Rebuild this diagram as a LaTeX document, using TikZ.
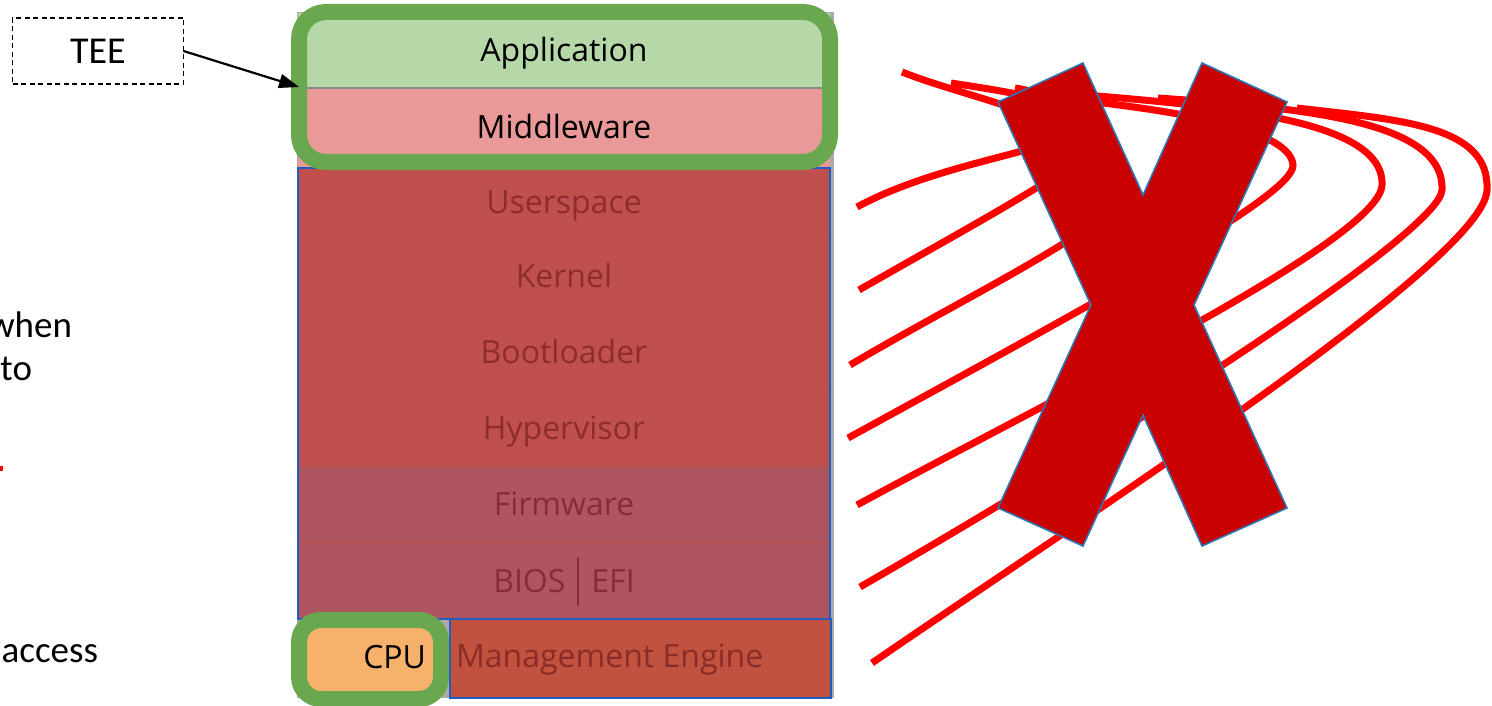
\documentclass[tikz,border=0pt]{standalone}
\usepackage{fontspec}
\setmainfont{Carlito}
\newfontfamily\stackfont{Open Sans}
\usetikzlibrary{arrows.meta}

\definecolor{appgreen}{HTML}{B6D7A8}
\definecolor{midpink}{HTML}{EA9999}
\definecolor{layerred}{HTML}{C0504D}
\definecolor{layertext}{HTML}{8E2D2E}
\definecolor{fwred}{HTML}{AF555F}
\definecolor{fwtext}{HTML}{882C36}
\definecolor{mered}{HTML}{C0523F}
\definecolor{metext}{HTML}{8A2C28}
\definecolor{sepred}{HTML}{B84A48}
\definecolor{framegreen}{HTML}{6AA84F}
\definecolor{cpuorange}{HTML}{F6B26B}
\definecolor{edgeblue}{HTML}{1F5DC6}
\definecolor{crossred}{HTML}{C80000}
\definecolor{crossedge}{HTML}{2E75B6}
\definecolor{stackgray}{HTML}{ABABAB}

\begin{document}
\begin{tikzpicture}[x=1pt,y=-1pt,
  every node/.style={inner sep=0pt, outer sep=0pt},
  sidetext/.style={font=\fontsize{37}{44}\selectfont},
  layer/.style={minimum width=532pt, text height=22pt, text depth=0pt,
    font=\stackfont\fontsize{32}{36}\selectfont},
  layersep/.style={draw=sepred, line width=1pt},
  greenframe/.style={draw=framegreen, line width=16pt},
  scrawl/.style={draw=red, line width=7pt},
  crossmark/.style={draw=crossedge, line width=1.6pt, fill=crossred, line join=miter}]

\path[use as bounding box, clip] (0,0) rectangle (1492,706);

% cut-off words of the side text
\node[sidetext, anchor=base east] (when) at (72,337) {when};
\node[sidetext, anchor=base east] (to) at (32,380) {to};
\node[sidetext, anchor=base east] (access) at (98,662) {access};
\fill[red] (0,466) rectangle (2.5,471);

% software stack
\fill[stackgray] (297,12) rectangle (834,698);
\node[layer, fill=appgreen, minimum height=75pt, text=black] (app) at (564,50.5) {Application};
\node[layer, fill=midpink, minimum height=81pt, text=black] (mid) at (564,127.5) {Middleware};
\draw[draw=stackgray!80!black, line width=2pt] (app.south west) -- (app.south east);
\node[layer, fill=layerred, minimum height=70pt, text=layertext] (user) at (564,203) {Userspace};
\node[layer, fill=layerred, minimum height=77pt, text=layertext] (kernel) at (564,276.5) {Kernel};
\node[layer, fill=layerred, minimum height=75pt, text=layertext] (boot) at (564,352.5) {Bootloader};
\node[layer, fill=layerred, minimum height=76pt, text=layertext] (hyper) at (564,428) {Hypervisor};
\node[layer, fill=fwred, minimum height=77pt, text=fwtext] (firm) at (564,504.5) {Firmware};
\node[layer, fill=fwred, minimum height=76pt, text=fwtext] (bios) at (564,581)
  {BIOS\hspace{12pt}{\color{fwtext}\rule[-14pt]{2pt}{49pt}}\hspace{12pt}EFI};
\foreach \a/\b in {user/kernel, kernel/boot, boot/hyper, hyper/firm, firm/bios}
  \draw[layersep] (\a.south west) -- (\a.south east);
\draw[edgeblue, line width=1.5pt] (user.north west) rectangle (bios.south east);

\node[draw=edgeblue, line width=1.5pt, fill=mered, minimum width=381pt, minimum height=79pt] (me) at (640.5,658.5) {};
\node[anchor=base west, text=metext, font=\stackfont\fontsize{32}{36}\selectfont] (metitle) at (456,667) {Management Engine};

\node[fill=cpuorange, rounded corners=6pt, minimum width=126pt, minimum height=64pt] (cpu) at (370,659) {};
\node[anchor=base east, font=\stackfont\fontsize{32}{36}\selectfont] (cputitle) at (426,668) {CPU};
\node[greenframe, rounded corners=22pt, minimum width=142pt, minimum height=79pt] (cpu frame) at (370,659.5) {};

\node[greenframe, rounded corners=27pt, minimum width=531pt, minimum height=150pt] (tee frame) at (564.5,87) {};

% TEE callout
\node[draw, dash pattern=on 5pt off 3.5pt, line width=1.3pt, minimum width=171pt, minimum height=66pt,
  font=\fontsize{38}{40}\selectfont] (tee) at (98,51) {TEE};
\draw[line width=2.2pt, -{Triangle[length=20pt,width=14pt]}] (tee.east) -- (tee frame.west);

% tangled red strokes
\draw[scrawl] (902,72) .. controls (960,95) and (1050,112) .. (1055,135)
  .. controls (1060,150) and (940,162) .. (857,207);
\draw[scrawl] (951,83) .. controls (1030,95) and (1105,108) .. (1100,135)
  .. controls (1095,160) and (990,215) .. (859,290);
\draw[scrawl] (1015,88) .. controls (1070,95) and (1125,150) .. (1115,200)
  .. controls (1105,230) and (960,300) .. (850,365);
\draw[scrawl] (1060,98) .. controls (1150,108) and (1290,125) .. (1293,165)
  .. controls (1295,195) and (1100,300) .. (848,438);
\draw[scrawl] (1050,92) .. controls (1200,105) and (1385,115) .. (1382,185)
  .. controls (1380,240) and (1050,400) .. (857,505);
\draw[scrawl] (1158,98) .. controls (1300,108) and (1445,120) .. (1442,190)
  .. controls (1440,230) and (1150,420) .. (860,587);
\draw[scrawl] (1297,108) .. controls (1400,120) and (1490,125) .. (1487,190)
  .. controls (1485,260) and (1080,520) .. (872,663);

% the big cross
\draw[crossmark] (998,102) -- (1083,63) -- (1143,195) -- (1202,63) -- (1287,102)
  -- (1194,305) -- (1287,508) -- (1202,546) -- (1143,415) -- (1083,546)
  -- (998,508) -- (1091,305) -- cycle;
\end{tikzpicture}
\end{document}
